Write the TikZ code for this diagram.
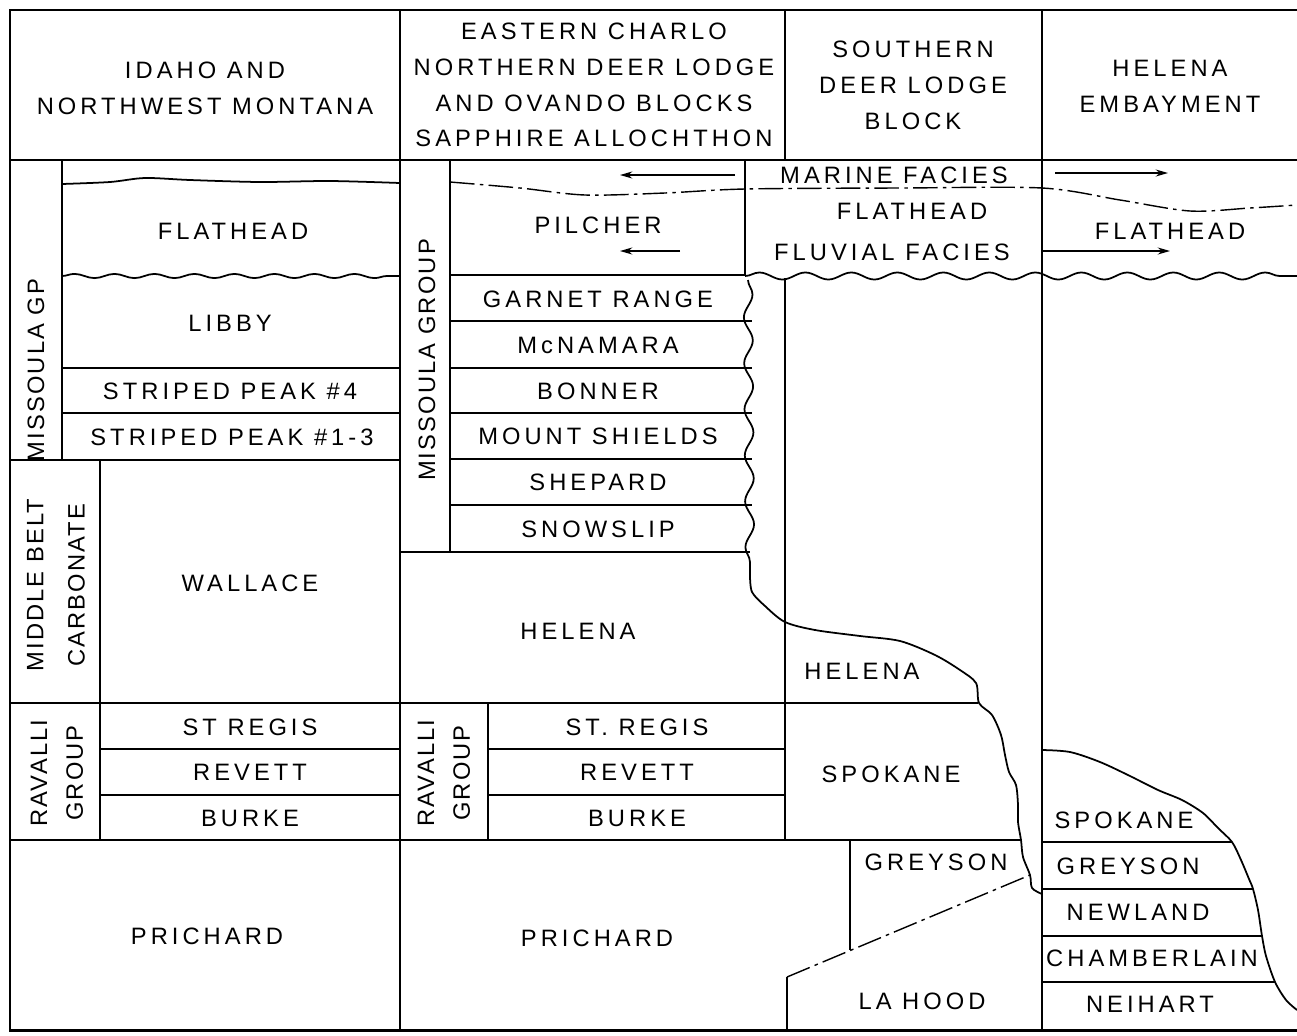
\documentclass[tikz,border=0pt]{standalone}
\usepackage{fontspec}
\setmainfont{Liberation Sans}[LetterSpace=17]
\usetikzlibrary{arrows.meta,decorations.pathmorphing}
\tikzset{
  unit/.style={font=\fontsize{13.5}{20.4}\selectfont,align=center,inner sep=1pt},
  grouplabel/.style={unit,rotate=90,font=\fontsize{13.5}{20.4}\selectfont\addfontfeature{LetterSpace=9}},
  contact/.style={line width=1pt},
  frame/.style={line width=1.7pt},
  wavy/.style={contact,decorate,decoration={snake,segment length=0.92cm,amplitude=2pt}},
  facies/.style={line width=0.8pt,dash pattern=on 14pt off 3pt on 2pt off 3pt},
  drift/.style={line width=0.9pt,-{Stealth[length=7pt,width=4pt]}},
}
\begin{document}
\begin{tikzpicture}[x=0.02cm,y=-0.02cm]
  \useasboundingbox[fill=white] (0,0) rectangle (1297,1035);
  % frame and header
  \draw[frame] (1297,10) -- (10,10) -- (10,1030) -- (1297,1030);
  \draw[contact] (10,160) -- (1297,160);
  \foreach \x in {400,785,1042}
    \draw[contact] (\x,10) -- (\x,160);
  \node[unit] (idaho) at (205,88) {IDAHO AND\\NORTHWEST MONTANA};
  \node[unit] (charlo) at (594,85) {EASTERN CHARLO\\NORTHERN DEER LODGE\\AND OVANDO BLOCKS\\SAPPHIRE ALLOCHTHON};
  \node[unit] (deerlodge) at (913,85) {SOUTHERN\\DEER LODGE\\BLOCK};
  \node[unit] (embay) at (1170,86) {HELENA\\EMBAYMENT};

  % column boundaries
  \draw[contact] (400,160) -- (400,1030);
  \draw[contact] (1042,160) -- (1042,1030);
  \draw[contact] (62,160) -- (62,460);
  \draw[contact] (100,460) -- (100,840);
  \draw[contact] (450,160) -- (450,552);
  \draw[contact] (488,703) -- (488,840);
  \draw[contact] (745,160) -- (745,275);
  \draw[contact] (785,278) -- (785,840);
  \draw[contact] (850,840) -- (850,950);
  \draw[contact] (787,977) -- (787,1030);

  % idaho and northwest montana
  \draw[contact] plot[smooth] coordinates {(62,184) (110,182) (145,178) (190,180) (260,182) (330,181) (400,183)};
  \draw[wavy,decoration={segment length=0.8cm,amplitude=1.2pt}] (62,276) -- (400,276);
  \foreach \y in {368,413} \draw[contact] (62,\y) -- (400,\y);
  \draw[contact] (10,460) -- (400,460);
  \draw[contact] (10,703) -- (978,703);
  \foreach \y in {749,795} {
    \draw[contact] (100,\y) -- (400,\y);
    \draw[contact] (488,\y) -- (785,\y);
  }
  \draw[contact] (10,840) -- (1021,840);
  \node[unit] (flat1) at (233,231) {FLATHEAD};
  \node[unit] (libby) at (230,323) {LIBBY};
  \node[unit] (sp4) at (230,391) {STRIPED PEAK \#4};
  \node[unit] (sp13) at (232,437) {STRIPED PEAK \#1-3};
  \node[grouplabel] (msgp) at (36,370) {MISSOULA GP};
  \node[grouplabel] (mbc) at (56,585) {MIDDLE BELT\\[3pt]CARBONATE};
  \node[unit] (wallace) at (250,583) {WALLACE};
  \node[grouplabel] (rav1) at (57,773) {RAVALLI\\GROUP};
  \foreach \y/\t [count=\i] in {727/ST REGIS,772/REVETT,818/BURKE}
    \node[unit] (rv\i) at (250,\y) {\t};
  \node[unit] (prich1) at (207,936) {PRICHARD};

  % charlo, deer lodge, ovando, sapphire
  \draw[facies] plot[smooth] coordinates {(450,182) (520,188) (585,195) (665,193) (745,189) (900,188) (1042,188) (1120,200) (1190,211) (1250,208) (1297,205)};
  \draw[contact] (450,275) -- (745,275);
  \draw[wavy] (745,276) -- (1297,276);
  \foreach \y in {321,368,413,459,505} \draw[contact] (450,\y) -- (752,\y);
  \draw[contact] (400,552) -- (750,552);
  \draw[wavy,decoration={segment length=0.92cm,amplitude=2.5pt}] (748,280) -- (750,575);
  \draw[contact] plot[smooth] coordinates {(750,575) (752,592) (765,606) (785,622) (815,630) (860,636) (900,641) (935,655) (960,670) (976,683) (979,703) (992,715) (1001,735) (1005,755) (1009,772) (1016,785) (1018,805) (1018,822) (1021,840) (1023,857) (1030,875) (1032,888) (1042,894)};
  \node[unit] (pilcher) at (598,225) {PILCHER};
  \foreach \y/\t [count=\i] in {299/GARNET RANGE,345/McNAMARA,391/BONNER,436/MOUNT SHIELDS,482/SHEPARD,529/SNOWSLIP}
    \node[unit] (ms\i) at (598,\y) {\t};
  \node[grouplabel] (msgroup) at (427,360) {MISSOULA GROUP};
  \node[unit] (helena1) at (578,631) {HELENA};
  \node[grouplabel] (rav2) at (444,773) {RAVALLI\\GROUP};
  \foreach \y/\t [count=\i] in {727/ST. REGIS,772/REVETT,818/BURKE}
    \node[unit] (rw\i) at (637,\y) {\t};
  \node[unit] (prich2) at (597,938) {PRICHARD};

  % southern deer lodge block
  \draw[facies] (787,977) -- (1030,875);
  \node[unit] (marine) at (894,175) {MARINE FACIES};
  \node[unit] (flat2) at (912,211) {FLATHEAD};
  \node[unit] (fluvial) at (892,252) {FLUVIAL FACIES};
  \node[unit] (helena2) at (862,671) {HELENA};
  \node[unit] (spok1) at (891,774) {SPOKANE};
  \node[unit] (grey1) at (936,862) {GREYSON};
  \node[unit] (lahood) at (922,1001) {LA HOOD};

  % helena embayment
  \draw[contact] plot[smooth] coordinates {(1042,750) (1070,752) (1100,762) (1130,776) (1158,790) (1182,800) (1203,813) (1218,828) (1232,842) (1241,860) (1249,879) (1253,889) (1258,910) (1262,936) (1266,956) (1275,982) (1286,1000) (1297,1010)};
  \draw[contact] (1042,842) -- (1232,842);
  \draw[contact] (1042,889) -- (1253,889);
  \draw[contact] (1042,936) -- (1262,936);
  \draw[contact] (1042,982) -- (1275,982);
  \node[unit] (flat3) at (1170,231) {FLATHEAD};
  \foreach \y/\x/\t [count=\i] in {820/1124/SPOKANE,866/1128/GREYSON,912/1138/NEWLAND,958/1152/CHAMBERLAIN,1004/1150/NEIHART}
    \node[unit] (he\i) at (\x,\y) {\t};

  % facies arrows
  \coordinate (mw0) at (735,175); \coordinate (mw1) at (620,175);
  \coordinate (fw0) at (680,251); \coordinate (fw1) at (620,251);
  \coordinate (me0) at (1055,173); \coordinate (me1) at (1168,173);
  \coordinate (fe0) at (1042,251); \coordinate (fe1) at (1170,251);
  \draw[drift] (mw0) -- (mw1);
  \draw[drift] (fw0) -- (fw1);
  \draw[drift] (me0) -- (me1);
  \draw[drift] (fe0) -- (fe1);
\end{tikzpicture}
\end{document}
